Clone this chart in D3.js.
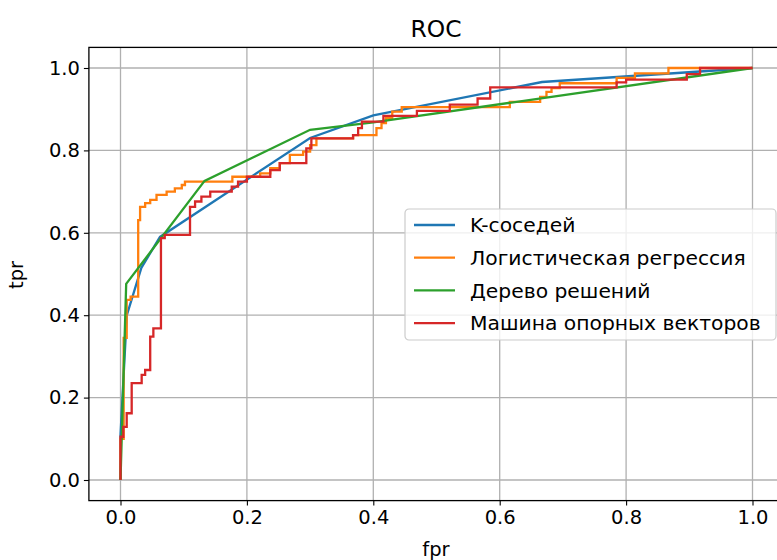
<!DOCTYPE html>
<html>
<head>
<meta charset="utf-8">
<script src="https://cdn.jsdelivr.net/npm/d3@7"></script>
<style>
  html, body { margin: 0; padding: 0; background: #fff; }
  svg { display: block; font-family: "DejaVu Sans", sans-serif; }
</style>
</head>
<body>
<svg id="chart" width="777" height="560"></svg>
<script>
// ROC curves for four classifiers: [fpr, tpr] vertices
const knnRoc = [
  [0, 0], [0, 0.11], [0.01, 0.40], [0.033, 0.515], [0.0625, 0.59],
  [0.3, 0.83], [0.4, 0.885], [0.667, 0.966], [1, 1]
];

const logregRoc = [
  [0, 0], [0, 0.10], [0.005, 0.10], [0.005, 0.345], [0.0098, 0.345],
  [0.0098, 0.437], [0.016, 0.437], [0.016, 0.445], [0.028, 0.445],
  [0.028, 0.631], [0.031, 0.631], [0.031, 0.663], [0.039, 0.663],
  [0.039, 0.672], [0.047, 0.672], [0.047, 0.680], [0.057, 0.680],
  [0.057, 0.692], [0.073, 0.692], [0.073, 0.700], [0.086, 0.700],
  [0.086, 0.708], [0.097, 0.708], [0.097, 0.716], [0.102, 0.716],
  [0.102, 0.724], [0.177, 0.724], [0.177, 0.736], [0.221, 0.736],
  [0.221, 0.744], [0.237, 0.744], [0.237, 0.757], [0.252, 0.757],
  [0.252, 0.769], [0.268, 0.769], [0.268, 0.789], [0.289, 0.789],
  [0.289, 0.797], [0.300, 0.797], [0.300, 0.813], [0.310, 0.813],
  [0.310, 0.829], [0.368, 0.829], [0.368, 0.837], [0.405, 0.837],
  [0.405, 0.854], [0.413, 0.854], [0.413, 0.866], [0.420, 0.866],
  [0.420, 0.878], [0.430, 0.878], [0.430, 0.894], [0.445, 0.894],
  [0.445, 0.905], [0.616, 0.905], [0.616, 0.918], [0.664, 0.918],
  [0.664, 0.930], [0.674, 0.930], [0.674, 0.942], [0.682, 0.942],
  [0.682, 0.951], [0.695, 0.951], [0.695, 0.963], [0.785, 0.963],
  [0.785, 0.976], [0.814, 0.976], [0.814, 0.987], [0.867, 0.987],
  [0.867, 1.0], [1, 1]
];

const treeRoc = [
  [0, 0], [0.009, 0.476], [0.133, 0.726], [0.30, 0.85], [0.40, 0.868], [1, 1]
];

const svmRoc = [
  [0, 0], [0, 0.105], [0.0045, 0.105], [0.0045, 0.129], [0.0098, 0.129],
  [0.0098, 0.162], [0.0177, 0.162], [0.0177, 0.235], [0.0335, 0.235],
  [0.0335, 0.255], [0.039, 0.255], [0.039, 0.267], [0.047, 0.267],
  [0.047, 0.348], [0.052, 0.348], [0.052, 0.368], [0.064, 0.368],
  [0.064, 0.587], [0.070, 0.587], [0.070, 0.595], [0.110, 0.595],
  [0.110, 0.663], [0.118, 0.663], [0.118, 0.676], [0.128, 0.676],
  [0.128, 0.688], [0.142, 0.688], [0.142, 0.700], [0.176, 0.700],
  [0.176, 0.712], [0.186, 0.712], [0.186, 0.724], [0.200, 0.724],
  [0.200, 0.736], [0.237, 0.736], [0.237, 0.752], [0.252, 0.752],
  [0.252, 0.769], [0.294, 0.769], [0.294, 0.805], [0.302, 0.805],
  [0.302, 0.829], [0.368, 0.829], [0.368, 0.837], [0.376, 0.837],
  [0.376, 0.854], [0.382, 0.854], [0.382, 0.870], [0.416, 0.870],
  [0.416, 0.884], [0.469, 0.884], [0.469, 0.896], [0.521, 0.896],
  [0.521, 0.911], [0.565, 0.911], [0.565, 0.926], [0.585, 0.926],
  [0.585, 0.953], [0.785, 0.953], [0.785, 0.965], [0.800, 0.965],
  [0.800, 0.972], [0.896, 0.972], [0.896, 0.985], [0.917, 0.985],
  [0.917, 1.0], [1, 1]
];

const seriesNames = ["K-соседей", "Логистическая регрессия", "Дерево решений", "Машина опорных векторов"];
const seriesColors = ["#1f77b4", "#ff7f0e", "#2ca02c", "#d62728"];
const seriesData = [knnRoc, logregRoc, treeRoc, svmRoc];

const xTicks = [0, 0.2, 0.4, 0.6, 0.8, 1.0];
const yTicks = [0, 0.2, 0.4, 0.6, 0.8, 1.0];

const svg = d3.select("#chart");

// axes box: data range padded by 5% on each side
const x = d3.scaleLinear().domain([-0.05, 1.05]).range([88.9, 784.1]);
const y = d3.scaleLinear().domain([-0.05, 1.05]).range([500.6, 47.4]);

const fontSize = 19.5;

// grid
const grid = svg.append("g");
grid.selectAll("line.vx").data(xTicks).join("line")
  .attr("x1", d => x(d)).attr("x2", d => x(d))
  .attr("y1", y.range()[0]).attr("y2", y.range()[1])
  .attr("stroke", "#b0b0b0").attr("stroke-width", 1.3);
grid.selectAll("line.hy").data(yTicks).join("line")
  .attr("y1", d => y(d)).attr("y2", d => y(d))
  .attr("x1", x.range()[0]).attr("x2", x.range()[1])
  .attr("stroke", "#b0b0b0").attr("stroke-width", 1.3);

// curves
const line = d3.line().x(d => x(d[0])).y(d => y(d[1]));
svg.append("g").selectAll("path").data(seriesData).join("path")
  .attr("d", line)
  .attr("fill", "none")
  .attr("stroke", (d, i) => seriesColors[i])
  .attr("stroke-width", 2.3)
  .attr("stroke-linejoin", "miter");

// axes
const xAxis = svg.append("g").attr("transform", `translate(0,${y.range()[0]})`)
  .call(d3.axisBottom(x).tickValues(xTicks).tickFormat(d3.format(".1f")).tickSizeOuter(0).tickSize(5));
const yAxis = svg.append("g").attr("transform", `translate(${x.range()[0]},0)`)
  .call(d3.axisLeft(y).tickValues(yTicks).tickFormat(d3.format(".1f")).tickSizeOuter(0).tickSize(5));
[xAxis, yAxis].forEach(a => {
  a.select(".domain").remove();
  a.selectAll(".tick line").attr("stroke", "#000").attr("stroke-width", 1.1);
  a.selectAll(".tick text").attr("font-size", fontSize)
    .attr("font-family", "DejaVu Sans").attr("fill", "#000");
});
xAxis.selectAll(".tick text").attr("dy", "0.71em").attr("y", 10);
yAxis.selectAll(".tick text").attr("x", -9);

// frame
svg.append("rect")
  .attr("x", x.range()[0]).attr("y", y.range()[1])
  .attr("width", x.range()[1] - x.range()[0])
  .attr("height", y.range()[0] - y.range()[1])
  .attr("fill", "none").attr("stroke", "#000").attr("stroke-width", 1.3);

// title and axis labels
svg.append("text").attr("x", 436).attr("y", 37).attr("text-anchor", "middle")
  .attr("font-size", 23.4).text("ROC");
svg.append("text").attr("x", 436).attr("y", 556).attr("text-anchor", "middle")
  .attr("font-size", fontSize).text("fpr");
svg.append("text").attr("transform", "translate(23,275) rotate(-90)")
  .attr("text-anchor", "middle").attr("font-size", fontSize).text("tpr");

// legend
const legend = svg.append("g").attr("transform", "translate(405,209)");
legend.append("rect").attr("width", 371).attr("height", 131)
  .attr("rx", 4).attr("ry", 4)
  .attr("fill", "#fff").attr("fill-opacity", 0.8)
  .attr("stroke", "#cccccc").attr("stroke-width", 1.2);
const items = legend.selectAll("g.item").data(seriesNames).join("g")
  .attr("transform", (d, i) => `translate(0,${16 + i * 32.7})`);
items.append("line").attr("x1", 9).attr("x2", 50).attr("y1", 0).attr("y2", 0)
  .attr("stroke", (d, i) => seriesColors[i]).attr("stroke-width", 2.3);
items.append("text").attr("x", 65).attr("y", 0).attr("dy", "0.35em")
  .attr("font-size", 20.3).text(d => d);
</script>
</body>
</html>
